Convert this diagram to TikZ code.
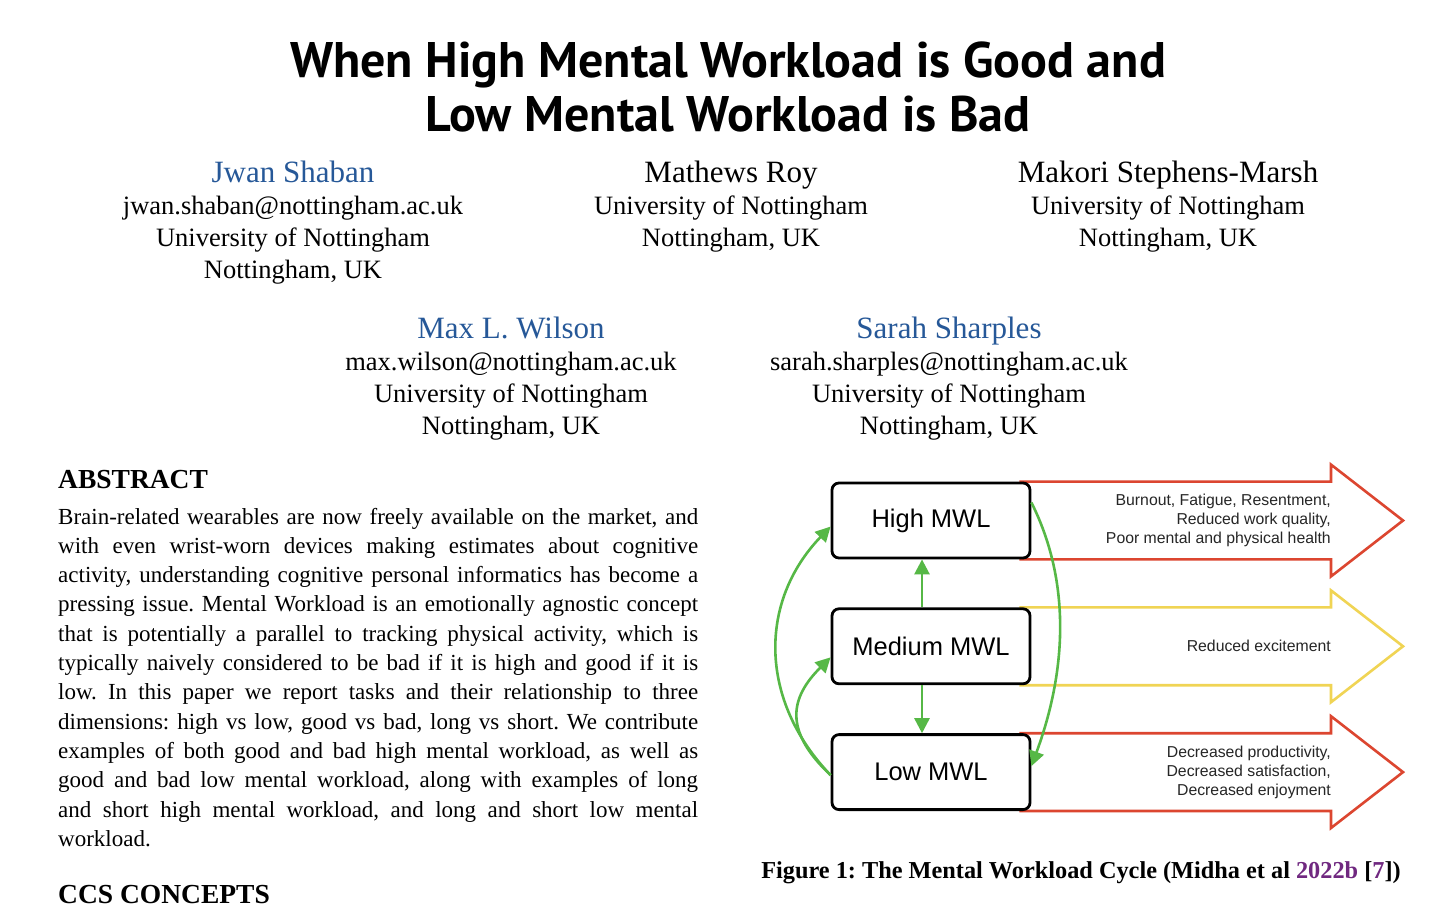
\documentclass[tikz,border=0pt]{standalone}
\usepackage{fontspec}
\setmainfont{Liberation Serif}
\newfontfamily\titlefont{PT Sans}
\newfontfamily\figfont{Liberation Sans}
\usetikzlibrary{arrows.meta,positioning,calc,backgrounds}
\definecolor{authorblue}{RGB}{38,88,152}
\definecolor{refpurple}{RGB}{112,40,128}
\definecolor{mwlred}{RGB}{220,70,48}
\definecolor{mwlyellow}{RGB}{240,212,84}
\definecolor{mwlgreen}{RGB}{86,184,70}
\frenchspacing
\tikzstyle{papertitle} = [font=\titlefont\bfseries\fontsize{50}{54}\selectfont, anchor=base, inner sep=0pt]
\tikzstyle{author} = [font=\fontsize{26.5}{32}\selectfont, align=center, anchor=base, inner sep=0pt]
\tikzstyle{heading} = [font=\bfseries\fontsize{27.5}{32}\selectfont, anchor=base west, inner sep=0pt]
\tikzstyle{bodyline} = [font=\fontsize{23}{29}\selectfont, anchor=base west, inner sep=0pt]
\tikzstyle{caption} = [font=\bfseries\fontsize{24.3}{28}\selectfont, anchor=base, inner sep=0pt]
\tikzstyle{mwlbox} = [draw=black, line width=2.8pt, rounded corners=7pt, fill=white, minimum width=198pt, minimum height=75pt, font=\figfont\fontsize{25.5}{28}\selectfont]
\tikzstyle{effect} = [font=\figfont\fontsize{15.8}{19}\selectfont, align=right, anchor=east, inner sep=0pt, text=black!85]
\tikzstyle{bigarrow} = [line width=2.6pt, line join=miter]
\tikzstyle{cyclearrow} = [draw=mwlgreen, line width=2.6pt, -{Triangle[length=15pt,width=15pt]}]
\newcommand{\name}[1]{{\fontsize{31}{32}\selectfont #1}}

\begin{document}
\begin{tikzpicture}[x=1pt,y=-1pt]
\useasboundingbox (0,0) rectangle (1450,906);

% title and authors (base = baseline of the last line)
\node[papertitle] (title1) at (728,77) {When High Mental Workload is Good and};
\node[papertitle] (title2) at (728,131) {Low Mental Workload is Bad};

\node[author] (jwan) at (293,278) {\name{\textcolor{authorblue}{Jwan Shaban}}\\ jwan.shaban@nottingham.ac.uk\\ University of Nottingham\\ Nottingham, UK};
\node[author] (roy) at (731,246) {\name{Mathews Roy}\\ University of Nottingham\\ Nottingham, UK};
\node[author] (makori) at (1168,246) {\name{Makori Stephens-Marsh}\\ University of Nottingham\\ Nottingham, UK};
\node[author] (max) at (511,434) {\name{\textcolor{authorblue}{Max L. Wilson}}\\ max.wilson@nottingham.ac.uk\\ University of Nottingham\\ Nottingham, UK};
\node[author] (sarah) at (949,434) {\name{\textcolor{authorblue}{Sarah Sharples}}\\ sarah.sharples@nottingham.ac.uk\\ University of Nottingham\\ Nottingham, UK};

% abstract
\node[heading] (abstract) at (58,488) {ABSTRACT};
\foreach \t [count=\i] in {
  {Brain-related wearables are now freely available on the market, and},
  {with even wrist-worn devices making estimates about cognitive},
  {activity, understanding cognitive personal informatics has become a},
  {pressing issue. Mental Workload is an emotionally agnostic concept},
  {that is potentially a parallel to tracking physical activity, which is},
  {typically naively considered to be bad if it is high and good if it is},
  {low. In this paper we report tasks and their relationship to three},
  {dimensions: high vs low, good vs bad, long vs short. We contribute},
  {examples of both good and bad high mental workload, as well as},
  {good and bad low mental workload, along with examples of long},
  {and short high mental workload, and long and short low mental}}
  \node[bodyline] (abs\i) at (58,{524+29.3*(\i-1)}) {\makebox[640pt][s]{\t}};
\node[bodyline] (abs12) at (58,846) {workload.};
\node[heading] (ccs) at (58,903) {CCS CONCEPTS};

% figure
\node[mwlbox] (hi) at (931,520.5) {High MWL};
\node[mwlbox, below=48pt of hi] (med) {Medium MWL};
\node[mwlbox, below=48pt of med] (lo) {Low MWL};

\coordinate (headx) at (1331,0);
\coordinate (tipx) at (1403,0);
\begin{scope}[on background layer]
\fill[white] (0,0) rectangle (1450,906);
\foreach \b/\c in {hi/mwlred, med/mwlyellow, lo/mwlred}
  \draw[bigarrow, draw=\c] ([xshift=-12pt]\b.north east) -- (\b.north east -| headx) -- ++(0,-17)
    -- (\b.east -| tipx) -- ($(\b.south east -| headx)+(0,17)$) -- (\b.south east -| headx) -- ([xshift=-12pt]\b.south east);
\end{scope}

\node[effect] (hitxt) at (hi.east -| headx) {Burnout, Fatigue, Resentment,\\ Reduced work quality,\\ Poor mental and physical health};
\node[effect] (medtxt) at (med.east -| headx) {Reduced excitement};
\node[effect] (lotxt) at (lo.east -| headx) {Decreased productivity,\\ Decreased satisfaction,\\ Decreased enjoyment};

\draw[cyclearrow] ([xshift=-9pt]med.north) -- ([xshift=-9pt]hi.south);
\draw[cyclearrow] ([xshift=-9pt]med.south) -- ([xshift=-9pt]lo.north);
\draw[cyclearrow] ([yshift=-3pt]lo.west) .. controls +(-72,-75) and +(-72,75) .. ([yshift=-6pt]hi.west);
\draw[cyclearrow] ([yshift=-3pt]lo.west) .. controls +(-48,-45) and +(-40,40) .. ([yshift=-11pt]med.west);
\draw[cyclearrow] ([yshift=18pt]hi.east) .. controls +(40,80) and +(35,-95) .. ([yshift=6pt]lo.east);

\node[caption] (cap) at (1081,878) {Figure 1: The Mental Workload Cycle (Midha et al \textcolor{refpurple}{2022b} [\textcolor{refpurple}{7}])};
\end{tikzpicture}
\end{document}
